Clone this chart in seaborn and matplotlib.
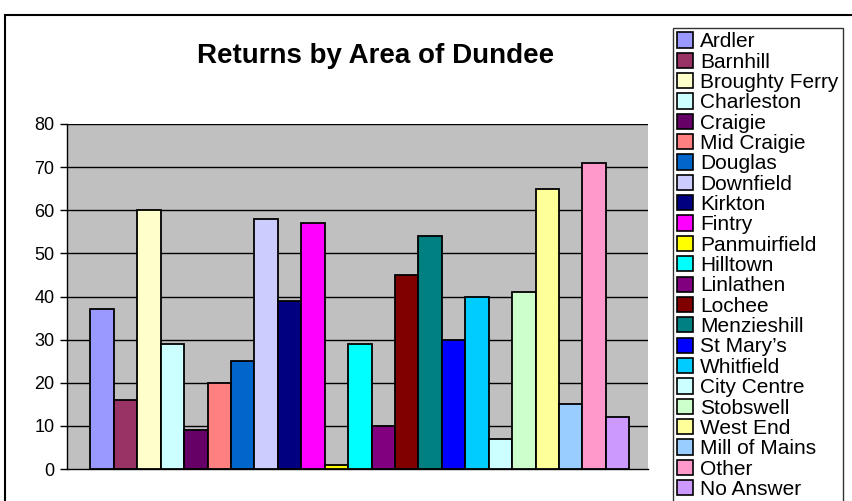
import matplotlib
matplotlib.use("Agg")
import matplotlib.pyplot as plt
import seaborn as sns
import pandas as pd
from matplotlib.patches import Patch, Rectangle

areas = ["Ardler", "Barnhill", "Broughty Ferry", "Charleston", "Craigie", "Mid Craigie",
         "Douglas", "Downfield", "Kirkton", "Fintry", "Panmuirfield", "Hilltown",
         "Linlathen", "Lochee", "Menzieshill", "St Mary\u2019s", "Whitfield", "City Centre",
         "Stobswell", "West End", "Mill of Mains", "Other", "No Answer"]
returns = [37, 16, 60, 29, 9, 20, 25, 58, 39, 57, 1, 29, 10, 45, 54, 30, 40, 7, 41, 65, 15, 71, 12]
colors = ["#9999FF", "#993366", "#FFFFCC", "#CCFFFF", "#660066", "#FF8080", "#0066CC",
          "#CCCCFF", "#000080", "#FF00FF", "#FFFF00", "#00FFFF", "#800080", "#800000",
          "#008080", "#0000FF", "#00CCFF", "#CCFFFF", "#CCFFCC", "#FFFF99", "#99CCFF",
          "#FF99CC", "#CC99FF"]
yticks = [0, 10, 20, 30, 40, 50, 60, 70, 80]

sns.set_style("white")
plt.rcParams["font.family"] = ["Liberation Sans", "DejaVu Sans"]
plt.rcParams["text.color"] = "black"
plt.rcParams["ytick.color"] = "black"
plt.rcParams["ytick.labelcolor"] = "black"

df = pd.DataFrame({"area": areas, "returns": returns})
W, H = 852, 501
fig = plt.figure(figsize=(W / 100, H / 100), dpi=100)
ax = fig.add_axes([67 / W, (H - 469) / H, (648 - 67) / W, (469 - 124) / H])
ax.set_facecolor("#C0C0C0")

sns.barplot(data=df, x="area", y="returns", hue="area", order=areas, hue_order=areas,
            palette=dict(zip(areas, colors)), width=1.0, edgecolor="black", saturation=1,
            linewidth=1.3, legend=False, ax=ax, dodge=False, zorder=3)

ax.set_xlim(-1.5, len(areas) - 0.5 + 0.8)
ax.set_ylim(0, 80)
ax.set_yticks(yticks)
ax.set_yticklabels([str(v) for v in yticks], fontsize=13)
ax.set_xticks([])
ax.set_xlabel("")
ax.set_ylabel("")
for v in yticks[1:]:
    ax.axhline(v, color="black", lw=1, zorder=1)
for side in ["top", "right"]:
    ax.spines[side].set_visible(False)
ax.spines["left"].set_color("black")
ax.spines["bottom"].set_color("black")
ax.spines["left"].set_linewidth(1)
ax.spines["bottom"].set_linewidth(1)
ax.tick_params(axis="y", direction="out", length=5, width=1, color="black", pad=4, left=True)

fig.text(376 / W, 1 - 56 / H, "Returns by Area of Dundee", ha="center", va="center",
         fontsize=20, fontweight="bold", color="black")

handles = [Patch(facecolor=c, edgecolor="black", linewidth=1.2, label=a) for a, c in zip(areas, colors)]
leg = fig.legend(handles=handles, loc="upper left", bbox_to_anchor=(673 / W, 1 - 28 / H),
                 fontsize=15, frameon=True, fancybox=False, handlelength=0.75, handleheight=0.75,
                 handletextpad=0.35, labelspacing=0.065, borderpad=0.2, borderaxespad=0)
leg.get_frame().set_edgecolor("black")
leg.get_frame().set_linewidth(1)

fig.add_artist(Rectangle((5 / W, -0.1), 2, (H - 15) / H + 0.1, transform=fig.transFigure,
                         fill=False, edgecolor="black", lw=1.5, clip_on=False))

fig.savefig("out.png", dpi=100, facecolor="white")
